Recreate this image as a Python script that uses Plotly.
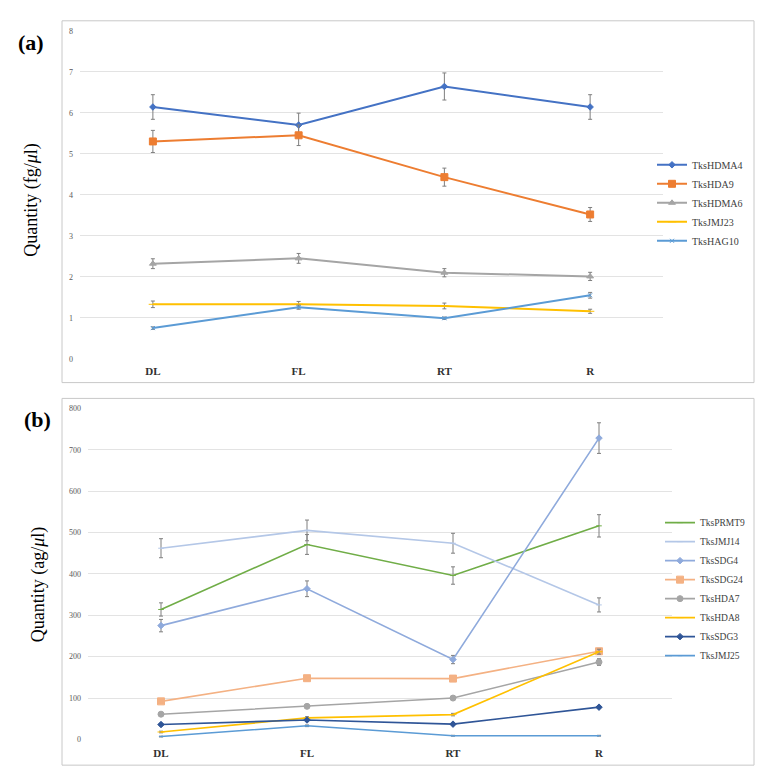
import plotly.graph_objects as go

W, H = 771, 783

cats = ["DL", "FL", "RT", "R"]

# panel (a) - fg/ul
a_names = ["TksHDMA4", "TksHDA9", "TksHDMA6", "TksJMJ23", "TksHAG10"]
a_vals = [
    [6.14, 5.70, 6.64, 6.14],
    [5.30, 5.45, 4.43, 3.52],
    [2.32, 2.45, 2.10, 2.01],
    [1.33, 1.33, 1.29, 1.16],
    [0.75, 1.26, 0.99, 1.55],
]
a_err = [
    [0.30, 0.29, 0.33, 0.30],
    [0.27, 0.25, 0.22, 0.17],
    [0.12, 0.12, 0.10, 0.10],
    [0.08, 0.07, 0.07, 0.05],
    [0.03, 0.05, 0.03, 0.07],
]
a_colors = ["#4472c4", "#ed7d31", "#a5a5a5", "#ffc000", "#5b9bd5"]
a_symbols = ["diamond", "square", "triangle-up", "line-ew", "x-thin"]
a_sizes = [5, 7, 6, 6, 4]

# panel (b) - ag/ul
b_names = ["TksPRMT9", "TksJMJ14", "TksSDG4", "TksSDG24", "TksHDA7", "TksHDA8", "TksSDG3", "TksJMJ25"]
b_vals = [
    [314, 471, 396, 516],
    [462, 505, 474, 325],
    [275, 364, 193, 728],
    [92, 148, 147, 213],
    [61, 80, 100, 187],
    [18, 52, 60, 212],
    [36, 47, 37, 78],
    [7, 33, 9, 9],
]
b_err = [
    [16, 24, 21, 27],
    [23, 25, 24, 17],
    [15, 19, 10, 37],
    [4, 6, 6, 7],
    [3, 3, 3, 8],
    [2, 3, 3, 6],
    [2, 3, 2, 3],
    [1, 2, 1, 1],
]
b_colors = ["#70ad47", "#b4c7e7", "#8faadc", "#f4b183", "#a5a5a5", "#ffc000", "#2f5597", "#5b9bd5"]
b_symbols = ["line-ew", "line-ew", "diamond", "square", "circle", "line-ew", "diamond", "line-ew"]
b_sizes = [4, 4, 5, 7, 6, 5, 5, 3]

serif = "Liberation Serif"


def px(x):
    return x / W


def py(y):
    return 1 - y / H


fig = go.Figure()

for n, v, e, c, s, sz in zip(a_names, a_vals, a_err, a_colors, a_symbols, a_sizes):
    fig.add_trace(go.Scatter(
        x=cats, y=v, name=n, mode="lines+markers",
        line=dict(color=c, width=2),
        marker=dict(color=c, symbol=s, size=sz, line=dict(color=c, width=1)),
        error_y=dict(type="data", array=e, color="#7f7f7f", thickness=1, width=2),
        xaxis="x", yaxis="y", legend="legend",
    ))

for n, v, e, c, s, sz in zip(b_names, b_vals, b_err, b_colors, b_symbols, b_sizes):
    fig.add_trace(go.Scatter(
        x=cats, y=v, name=n, mode="lines+markers",
        line=dict(color=c, width=1.6),
        marker=dict(color=c, symbol=s, size=sz, line=dict(color=c, width=1)),
        error_y=dict(type="data", array=e, color="#7f7f7f", thickness=1, width=2),
        xaxis="x2", yaxis="y2", legend="legend2",
    ))

xax = dict(type="category", range=[-0.5, 3.5], showgrid=False, showline=False, zeroline=False,
           ticks="", tickfont=dict(family=serif, size=11, color="#303030", weight="bold"))
yax = dict(showgrid=True, gridcolor="#e3e3e3", gridwidth=1, zeroline=False, showline=False,
           ticks="", ticklabelstandoff=6, tickfont=dict(family=serif, size=8, color="#595959"))

leg = dict(xanchor="left", yanchor="top", font=dict(family=serif, size=10, color="#404040"),
           bgcolor="rgba(0,0,0,0)", tracegroupgap=0, itemwidth=30)

fig.update_layout(
    width=W, height=H,
    margin=dict(l=0, r=0, t=0, b=0),
    paper_bgcolor="white", plot_bgcolor="white",
    xaxis=dict(xax, domain=[px(80), px(663)], anchor="y", ticklabelstandoff=4),
    yaxis=dict(yax, domain=[py(359), py(27)], range=[0, 8], dtick=1, anchor="x"),
    xaxis2=dict(xax, domain=[px(88), px(672)], anchor="y2", ticklabelstandoff=6),
    yaxis2=dict(yax, domain=[py(744), py(409)], range=[0, 800], dtick=100, anchor="x2"),
    legend=dict(leg, x=px(652), y=py(148)),
    legend2=dict(leg, x=px(660), y=py(510), font=dict(family=serif, size=9.5, color="#404040")),
    shapes=[
        dict(type="rect", xref="paper", yref="paper", x0=px(62), x1=px(754), y0=py(383), y1=py(17),
             line=dict(color="#c8c8c8", width=1)),
        dict(type="rect", xref="paper", yref="paper", x0=px(62), x1=px(754), y0=py(770), y1=py(399),
             line=dict(color="#c8c8c8", width=1)),
    ],
    annotations=[
        dict(text="<b>(a)</b>", x=px(16), y=py(39), xref="paper", yref="paper", xanchor="left",
             yanchor="middle", showarrow=False, font=dict(family=serif, size=22, color="black")),
        dict(text="<b>(b)</b>", x=px(22), y=py(420), xref="paper", yref="paper", xanchor="left",
             yanchor="middle", showarrow=False, font=dict(family=serif, size=22, color="black")),
        dict(text="Quantity (fg/<i>μ</i>l)", x=px(32), y=py(198), xref="paper", yref="paper",
             xanchor="center", yanchor="middle",
             textangle=-90, showarrow=False, font=dict(family=serif, size=18, color="black")),
        dict(text="Quantity (ag/<i>μ</i>l)", x=px(38), y=py(587), xref="paper", yref="paper",
             xanchor="center", yanchor="middle",
             textangle=-90, showarrow=False, font=dict(family=serif, size=18, color="black")),
    ],
)

fig.write_html("out.html", config={"displayModeBar": False},
               post_script="document.body.style.margin='0';")
